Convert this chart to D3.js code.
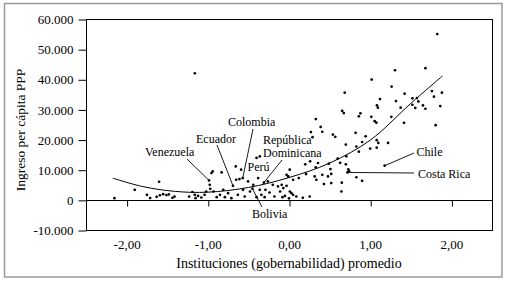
<!DOCTYPE html>
<html>
<head>
<meta charset="utf-8">
<script src="https://cdn.jsdelivr.net/npm/d3@7"></script>
<style>
  html, body { margin: 0; padding: 0; background: #fff; }
  svg { display: block; }
  text { font-family: "Liberation Serif", "Times New Roman", serif; fill: #000; }
</style>
</head>
<body>
<svg id="chart" width="510" height="283"></svg>
<script>
// ---------------- DATA ----------------
const governance = [
  -2.15, -1.90, -1.75, -1.71, -1.60, -1.63, -1.59, -1.55, -1.51, -1.48, -1.435, -1.41, -1.23, -1.19, -1.16, -1.15, -1.12, -1.08, -1.04, -1.02, -1.16,
  -0.985, -0.976, -0.97, -0.955, -0.94, -0.93, -0.89, -0.85, -0.83, -0.81, -0.79, -0.75, -0.71, -0.69, -0.656, -0.65, -0.63, -0.61, -0.57, -0.566,
  -0.545, -0.505, -0.48, -0.45, -0.44, -0.40, -0.38, -0.36, -0.34, -0.31, -0.30, -0.29, -0.26, -0.24, -0.20, -0.18, -0.135, -0.11, -0.08, -0.59, -0.40, -0.36,
  -0.09, -0.07, -0.03, -0.03, -0.01, 0.01, 0.03, 0.05, 0.09, 0.009, 0.05, 0.12, -0.05, 0.0, 0.17, 0.20, 0.21, 0.26, 0.255, 0.316, 0.337, 0.33,
  0.357, 0.41, 0.48, 0.49, 0.51, 0.52, 0.60, 0.63, 0.706, 0.70, 0.73, 0.72, 0.74, 0.83, 0.90, 0.65, 0.645, 0.43, 0.52,
  0.33, 0.39, 0.41, 0.27, 0.29, 0.54, 0.57, 0.655, 0.675, 0.686, 0.86, 0.88, 1.014, 1.018, 1.055, 1.076, 1.083, 1.095, 1.12, 1.26,
  1.264, 1.305, 1.317, 1.375, 1.416, 1.424, 1.52, 1.575, 1.52, 1.555, 1.593, 1.65, 1.68, 1.68, 1.76, 1.785, 1.806, 1.826, 1.863, 1.883,
  0.82, 0.944, 0.70, 0.83, 0.86, 0.90, 1.0, 1.08, 1.10, 1.08, 1.22, 1.178
];
const income = [
  560, 3330, 1670, 600, 6000, 1000, 1500, 1900, 1600, 1800, 700, 1100, 1100, 2600, 1670, 560, 1300, 780, 1670, 2780, 42000,
  6440, 5000, 3670, 8900, 9440, 2780, 890, 1670, 9100, 3330, 890, 2220, 560, 4670, 11100, 6670, 1670, 6890, 7220, 3330,
  1110, 6110, 2780, 3700, 5000, 890, 7220, 3330, 1670, 5700, 890, 3330, 6110, 2440, 5000, 1110, 4440, 2780, 890, 10000, 13900, 14400,
  5000, 3900, 4670, 8330, 7780, 2780, 2220, 1670, 1110, 10000, 6670, 7230, 1300, 500, 700, 11800, 8560, 12770, 1110, 7780, 6670, 10800,
  12230, 8330, 7780, 12000, 10200, 8600, 13700, 12300, 14430, 11800, 10100, 9100, 9500, 7500, 6330, 5700, 2780, 5230, 5560,
  26800, 24200, 22600, 22500, 20800, 21670, 20900, 29500, 28800, 35570, 27700, 28700, 27560, 39900, 26100, 25600, 31330, 30570, 33430, 27560,
  37570, 43000, 32770, 30570, 25570, 35230, 33670, 33770, 31560, 30500, 32670, 31330, 30230, 43670, 36100, 34230, 24770, 55000, 31100, 35570,
  22230, 21100, 18330, 17700, 16000, 19200, 17000, 19800, 18900, 17300, 18900, 11330
];

// fitted trend line
const fitGov = [-2.17, -1.8, -1.4, -1.0, -0.5, 0.0, 0.5, 1.0, 1.5, 1.89];
const fitIncome = [7200, 4400, 2800, 2550, 4100, 7400, 12200, 19800, 32000, 41100];

// labelled countries
const labelNames = ["Venezuela", "Ecuador", "Colombia", "Perú", "República Dominicana", "Bolivia", "Chile", "Costa Rica"];
const labelGov = [-0.985, -0.69, -0.57, -0.656, -0.31, -0.45, 1.178, 0.72];
const labelIncome = [6440, 4670, 7220, 11100, 5700, 3700, 11330, 9100];

const xTicks = [-2, -1, 0, 1, 2];
const xTickLabels = ["-2,00", "-1,00", "0,00", "1,00", "2,00"];
const yTicks = [-10000, 0, 10000, 20000, 30000, 40000, 50000, 60000];
const yTickLabels = ["-10.000", "0", "10.000", "20.000", "30.000", "40.000", "50.000", "60.000"];

const xTitle = "Instituciones (gobernabilidad) promedio";
const yTitle = "Ingreso per cápita PPP";

// ---------------- LAYOUT ----------------
const plot = { left: 86, top: 19, right: 492, bottom: 230 };
// label text positions (pixels) and leader-line start points
const labelLayout = {
  "Venezuela": { lines: ["Venezuela"], x: 145, y: 155.5, lead: [187, 159] },
  "Ecuador": { lines: ["Ecuador"], x: 196, y: 142.5, lead: [217, 145] },
  "Colombia": { lines: ["Colombia"], x: 228, y: 126, lead: [253, 129] },
  "Perú": { lines: ["Perú"], x: 247.5, y: 170.8, lead: null },
  "República Dominicana": { lines: ["República", "Dominicana"], x: 263, y: 143.5, lead: [282, 160] },
  "Bolivia": { lines: ["Bolivia"], x: 252, y: 218, lead: [262, 207] },
  "Chile": { lines: ["Chile"], x: 416.5, y: 156, lead: [414, 153] },
  "Costa Rica": { lines: ["Costa Rica"], x: 418, y: 178, lead: [414, 173] }
};
const lineGap = 13.5;

const svg = d3.select("#chart");

// outer frame
svg.append("rect")
  .attr("x", 4.5).attr("y", 3.5).attr("width", 497.5).attr("height", 273.5)
  .attr("fill", "none").attr("stroke", "#9a9a9a").attr("stroke-width", 1.5);

const x = d3.scaleLinear().domain([-2.5, 2.5]).range([plot.left, plot.right]);
const y = d3.scaleLinear().domain([-10000, 60000]).range([plot.bottom, plot.top]);

// plot box
svg.append("rect")
  .attr("x", plot.left + 0.5).attr("y", plot.top + 0.5)
  .attr("width", plot.right - plot.left).attr("height", plot.bottom - plot.top)
  .attr("fill", "none").attr("stroke", "#000").attr("stroke-width", 1);

// y axis
const yAxis = d3.axisLeft(y).tickValues(yTicks).tickSize(8).tickPadding(5)
  .tickFormat((d, i) => yTickLabels[i]);
const gy = svg.append("g").attr("transform", `translate(${plot.left + 0.5},0.5)`).call(yAxis);
gy.select(".domain").remove();
gy.selectAll("text").style("font-size", "13px").style("font-family", '"Liberation Serif", serif');

// zero line with ticks
const zeroAxis = d3.axisBottom(x).tickValues(xTicks).tickSize(6).tickFormat("");
const gz = svg.append("g").attr("transform", `translate(0.5,${Math.round(y(0)) + 0.5})`).call(zeroAxis);
gz.select(".domain").attr("d", `M${plot.left},0H${plot.right}`);

// x tick labels below plot
const labelAxis = d3.axisBottom(x).tickValues(xTicks).tickSize(0).tickPadding(10)
  .tickFormat((d, i) => xTickLabels[i]);
const gl = svg.append("g").attr("transform", `translate(0,${plot.bottom})`).call(labelAxis);
gl.select(".domain").remove();
gl.selectAll("text").style("font-size", "13px").style("font-family", '"Liberation Serif", serif');

// titles
svg.append("text")
  .attr("x", (x(-2.5) + x(2.5)) / 2).attr("y", 268)
  .attr("text-anchor", "middle").style("font-size", "14px")
  .text(xTitle);
svg.append("text")
  .attr("transform", `translate(25,${130}) rotate(-90)`)
  .attr("text-anchor", "middle").style("font-size", "13.5px")
  .text(yTitle);

// trend line
const fitData = fitGov.map((g, i) => [g, fitIncome[i]]);
svg.append("path")
  .datum(fitData)
  .attr("fill", "none").attr("stroke", "#000").attr("stroke-width", 1)
  .attr("d", d3.line().x(d => x(d[0])).y(d => y(d[1])).curve(d3.curveCatmullRom.alpha(0.5)));

// points
const pts = governance.map((g, i) => ({ g, v: income[i] }));
svg.append("g").selectAll("circle").data(pts).join("circle")
  .attr("cx", d => x(d.g)).attr("cy", d => y(d.v))
  .attr("r", 1.35).attr("fill", "#000");

// annotations
labelNames.forEach((name, i) => {
  const L = labelLayout[name];
  if (L.lead) {
    svg.append("line")
      .attr("x1", L.lead[0]).attr("y1", L.lead[1])
      .attr("x2", x(labelGov[i])).attr("y2", y(labelIncome[i]))
      .attr("stroke", "#000").attr("stroke-width", 0.9);
  }
  const t = svg.append("text")
    .attr("x", L.x).attr("y", L.y)
    .style("font-size", "12px");
  L.lines.forEach((ln, j) => {
    t.append("tspan")
      .attr("x", L.x)
      .attr("dy", j === 0 ? 0 : lineGap)
      .text(ln);
  });
});
</script>
</body>
</html>
